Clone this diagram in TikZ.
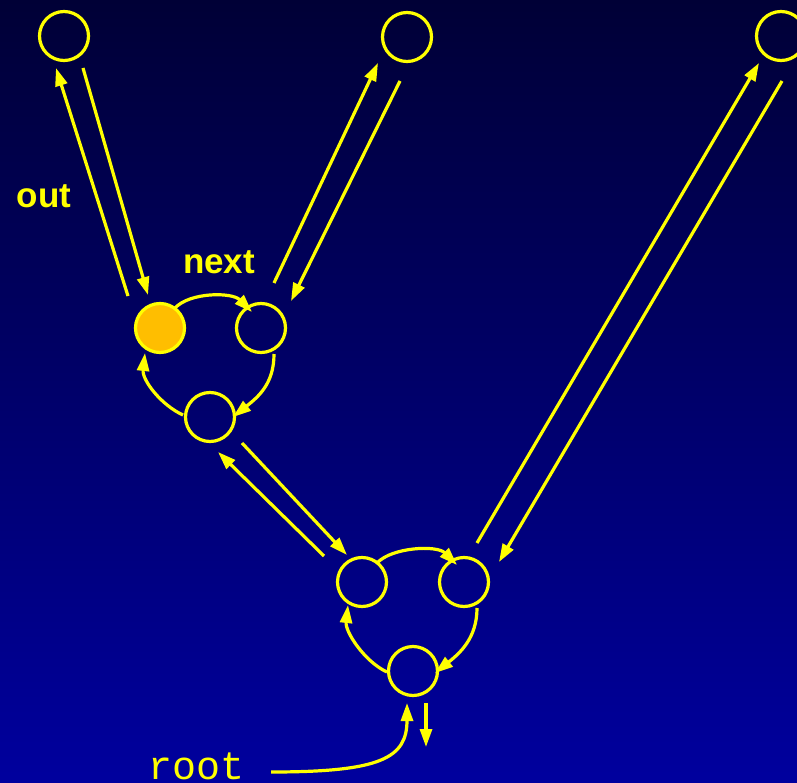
\documentclass[tikz,border=0pt]{standalone}
\usepackage{fontspec}
\setmainfont{Liberation Sans}
\newfontfamily\monofam{Liberation Mono}
\usetikzlibrary{arrows.meta,calc}
\definecolor{bgtop}{RGB}{0,0,54}
\definecolor{bgbot}{RGB}{0,0,158}
\definecolor{ptr}{RGB}{255,255,0}
\definecolor{cur}{RGB}{255,190,0}
\tikzset{
  cell/.style={circle,draw=ptr,line width=3.2pt,minimum size=49pt,inner sep=0pt},
  curcell/.style={cell,fill=cur},
  link/.style={draw=ptr,line width=3.2pt,-{Triangle[length=18pt,width=12pt]}},
  lbl/.style={text=ptr,font=\bfseries\fontsize{35}{35}\selectfont,inner sep=0pt,anchor=base},
  code/.style={text=ptr,font=\monofam\fontsize{40}{40}\selectfont,inner sep=0pt,anchor=base}
}
\begin{document}
\begin{tikzpicture}[x=1pt,y=-1pt]
  % backdrop
  \shade[top color=bgtop,bottom color=bgbot] (0,0) rectangle (797,783);
  \useasboundingbox (0,0) rectangle (797,783);
  \clip (0,0) rectangle (797,783);

  % cells
  \node[cell] (T1) at (64,36) {};
  \node[cell] (T2) at (407,37) {};
  \node[cell] (T3) at (781,36) {};
  \node[curcell] (A) at (160,328) {};
  \node[cell] (B) at (261,328) {};
  \node[cell] (C) at (210,417) {};
  \node[cell] (D) at (362,582) {};
  \node[cell] (E) at (464,582) {};
  \node[cell] (F) at (413,671) {};

  % labels
  \node[lbl] (outl) at (44,208) {out};
  \node[lbl] (nextl) at (219,274) {next};
  \node[code] (rootl) at (197,779) {root};

  % pointers up and down the tree
  \draw[link] ($(A)+(-32,-32)$) -- ($(T1)+(-8,32)$);
  \draw[link] ($(T1)+(19,32)$) -- ($(A)+(-12,-33)$);
  \draw[link] ($(B)+(13,-45)$) -- ($(T2)+(-29,26)$);
  \draw[link] ($(T2)+(-7,44)$) -- ($(B)+(30,-27)$);
  \draw[link] ($(E)+(13,-39)$) -- ($(T3)+(-22,27)$);
  \draw[link] ($(T3)+(1,45)$) -- ($(E)+(35,-20)$);
  \draw[link] ($(D)+(-38,-26)$) -- ($(C)+(8,35)$);
  \draw[link] ($(C)+(32,26)$) -- ($(D)+(-15,-27)$);

  % ring of the upper cluster
  \draw[link] ($(A)+(15,-20)$) .. controls +(15,-16) and +(-20,-20) .. ($(B)+(-9,-16)$);
  \draw[link] ($(B)+(13,26)$) .. controls +(0,30) and +(25,-20) .. ($(C)+(23,0)$);
  \draw[link] ($(C)+(-27,-2)$) .. controls +(-22,-10) and +(-3,27) .. ($(A)+(-15,25)$);

  % ring of the lower cluster
  \draw[link] ($(D)+(15,-19)$) .. controls +(15,-16) and +(-20,-20) .. ($(E)+(-7,-17)$);
  \draw[link] ($(E)+(13,26)$) .. controls +(0,30) and +(25,-20) .. ($(F)+(22,2)$);
  \draw[link] ($(F)+(-26,1)$) .. controls +(-22,-10) and +(-3,27) .. ($(D)+(-14,23)$);

  % entry and exit at the root
  \draw[link] ($(rootl.base east)+(26,-7)$) .. controls +(110,0) and +(0,55) .. ($(F)+(-6,32)$);
  \draw[link] ($(F)+(13,32)$) -- ($(F)+(13,76)$);
\end{tikzpicture}
\end{document}
